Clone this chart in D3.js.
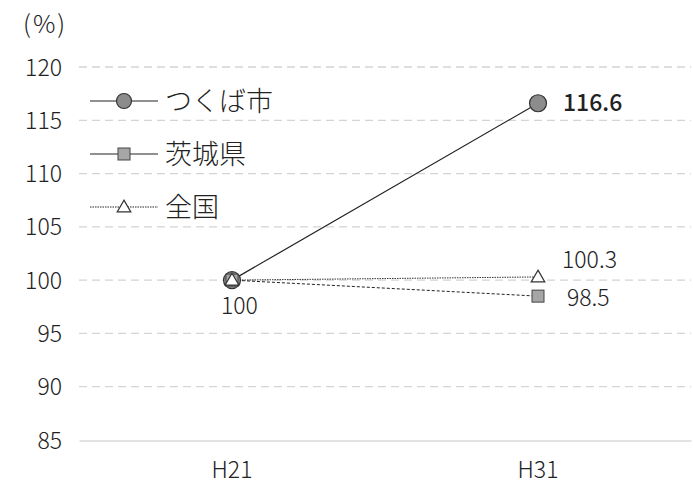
<!DOCTYPE html>
<html><head><meta charset="utf-8">
<script src="https://cdn.jsdelivr.net/npm/d3@7"></script>
<style>
html,body{margin:0;padding:0;background:#fff;}
text{font-family:"Noto Sans CJK JP","Noto Sans",sans-serif;fill:#222;}
</style></head>
<body><svg id="c" width="693" height="488"></svg>
<script>
const categories = ["H21", "H31"];
const tsukuba = [100, 116.6];
const ibaraki = [100, 98.5];
const zenkoku = [100, 100.3];
const yTicks = [85, 90, 95, 100, 105, 110, 115, 120];
const seriesNames = ["つくば市", "茨城県", "全国"];

const svg = d3.select("#c");
const x = d3.scaleBand().domain(categories).range([79, 691]);
const y = d3.scaleLinear().domain([85, 120]).range([440, 67]);
const cx = d => x(d) + x.bandwidth() / 2;
const FONT = '"Noto Sans CJK JP",sans-serif';

// horizontal dashed grid
svg.append("g").selectAll("line").data(yTicks.filter(t => t !== 85)).join("line")
  .attr("x1", 79).attr("x2", 691)
  .attr("y1", d => y(d)).attr("y2", d => y(d))
  .attr("stroke", "#d4d4d4").attr("stroke-width", 1.3).attr("stroke-dasharray", "8,5");

// y axis labels
const ya = svg.append("g").attr("transform", "translate(62,0)")
  .call(d3.axisLeft(y).tickValues(yTicks).tickSize(0).tickPadding(0));
ya.select(".domain").remove();
ya.selectAll("text").attr("font-size", 23).attr("font-weight", 300).attr("fill", "#222")
  .style("font-family", FONT).attr("dy", "0.35em");

// x axis
const xa = svg.append("g").attr("transform", "translate(0,440.5)")
  .call(d3.axisBottom(x).tickSize(0).tickPadding(21));
xa.select(".domain").attr("stroke", "#d9d9d9").attr("stroke-width", 1.5);
xa.selectAll("text").attr("font-size", 23).attr("font-weight", 300).attr("fill", "#222")
  .style("font-family", FONT);

svg.append("text").attr("x", 23).attr("y", 33).attr("font-size", 25).attr("font-weight", 300)
  .attr("letter-spacing", 2).text("(%)");

const line = d3.line().x((d, i) => cx(categories[i])).y(d => y(d));

// series lines
svg.append("path").datum(zenkoku).attr("d", line).attr("fill", "none")
  .attr("stroke", "#333").attr("stroke-width", 1).attr("stroke-dasharray", "1.5,1");
svg.append("path").datum(ibaraki).attr("d", line).attr("fill", "none")
  .attr("stroke", "#222").attr("stroke-width", 1).attr("stroke-dasharray", "3,2");
svg.append("path").datum(tsukuba).attr("d", line).attr("fill", "none")
  .attr("stroke", "#222").attr("stroke-width", 1.2);

// markers
const tri = d3.symbol().type(d3.symbolTriangle).size(80);
svg.selectAll(".m1").data(tsukuba).join("circle")
  .attr("cx", (d, i) => cx(categories[i])).attr("cy", d => y(d)).attr("r", 8.5)
  .attr("fill", "#8c8c8c").attr("stroke", "#333").attr("stroke-width", 1.2);
svg.selectAll(".m2").data(ibaraki).join("rect")
  .attr("x", (d, i) => cx(categories[i]) - 6).attr("y", d => y(d) - 6)
  .attr("width", 12).attr("height", 12)
  .attr("fill", "#a6a6a6").attr("stroke", "#444").attr("stroke-width", 1);
svg.selectAll(".m3").data(zenkoku).join("path")
  .attr("d", tri).attr("transform", (d, i) => `translate(${cx(categories[i])},${y(d) + 1})`)
  .attr("fill", "#fff").attr("stroke", "#333").attr("stroke-width", 1.2);

// value labels
const lab = (t, xx, yy, bold) => svg.append("text").attr("x", xx).attr("y", yy)
  .attr("font-size", 23).attr("font-weight", bold ? 500 : 300).text(t);
lab(String(tsukuba[0]), 221, y(tsukuba[0]) + 34, false);
lab(tsukuba[1].toFixed(1), cx(categories[1]) + 25, y(tsukuba[1]) + 8, true);
lab(zenkoku[1].toFixed(1), cx(categories[1]) + 24, y(zenkoku[1]) - 9, false);
lab(ibaraki[1].toFixed(1), cx(categories[1]) + 29, y(ibaraki[1]) + 10, false);

// legend
const legY = [101, 154, 207];
const lg = svg.append("g");
legY.forEach((ly, i) => {
  const l = lg.append("line").attr("x1", 90).attr("x2", 158).attr("y1", ly).attr("y2", ly)
    .attr("stroke", "#222").attr("stroke-width", 1.2);
  if (i === 2) l.attr("stroke-dasharray", "1.5,1").attr("stroke-width", 1);
  if (i === 0) lg.append("circle").attr("cx", 124).attr("cy", ly).attr("r", 7.5)
    .attr("fill", "#8c8c8c").attr("stroke", "#333").attr("stroke-width", 1.2);
  if (i === 1) lg.append("rect").attr("x", 118).attr("y", ly - 6).attr("width", 12).attr("height", 12)
    .attr("fill", "#a6a6a6").attr("stroke", "#444");
  if (i === 2) lg.append("path").attr("d", tri).attr("transform", `translate(124,${ly + 1})`)
    .attr("fill", "#fff").attr("stroke", "#333").attr("stroke-width", 1.2);
  lg.append("text").attr("x", 165).attr("y", ly + 10).attr("font-size", 27).attr("font-weight", 300)
    .text(seriesNames[i]);
});
</script></body></html>
